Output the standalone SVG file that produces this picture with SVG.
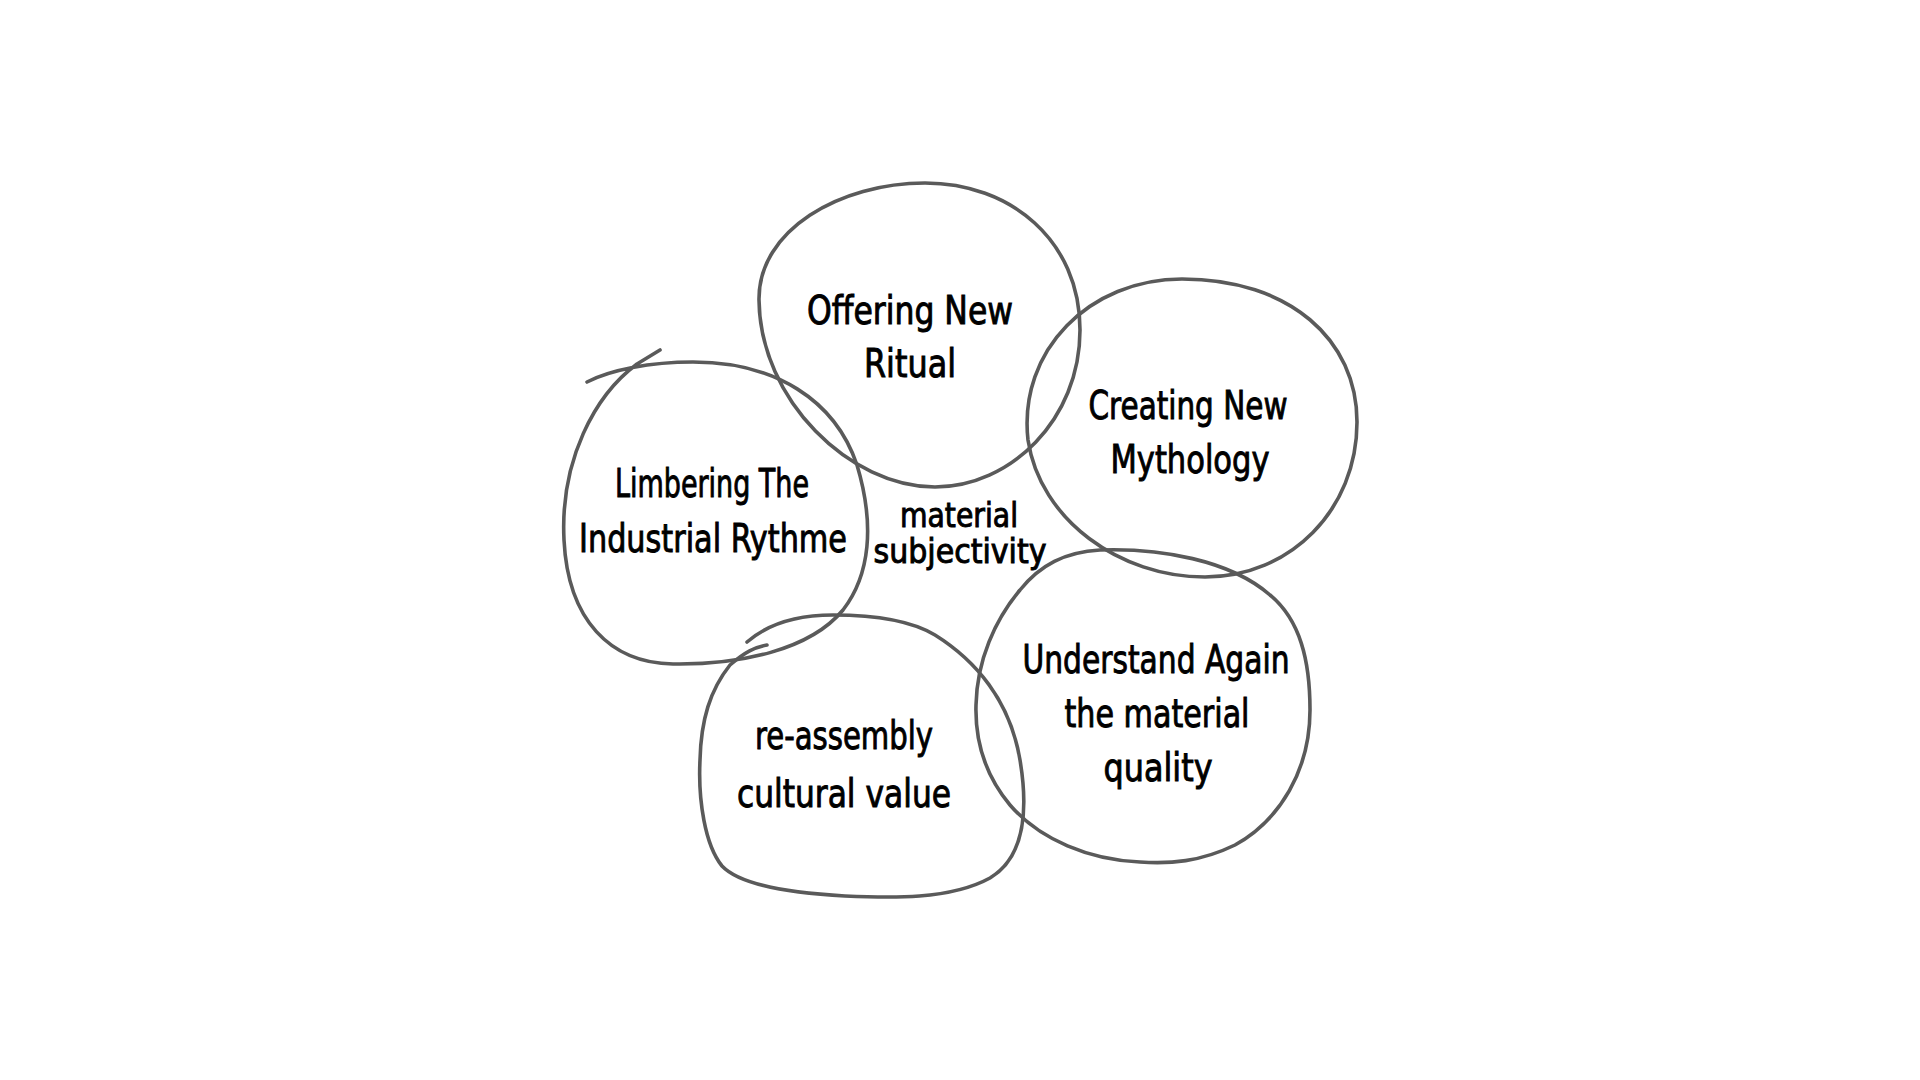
<svg xmlns="http://www.w3.org/2000/svg" width="1920" height="1080" viewBox="0 0 1920 1080">
<style>
.ring{fill:none;stroke:#5a5a5a;stroke-width:3.6;stroke-linecap:round;stroke-linejoin:round}
.lbl{font-family:"DejaVu Sans Condensed","DejaVu Sans","Liberation Sans",sans-serif;font-size:39px;fill:#000;stroke:#000;stroke-width:0.9;text-anchor:middle}
.sm{font-size:33px}
</style>
<rect width="1920" height="1080" fill="#fff"/>
<g id="node-offering">
<path class="ring" d="M925,183 C1010,183 1080,240 1080,330 C1080,420 1010,487 935,487 C850,487 760,400 759,300 C758,230 840,183 925,183 Z"/>
<text class="lbl" x="910" y="324" textLength="206" lengthAdjust="spacingAndGlyphs">Offering New</text>
<text class="lbl" x="910" y="377" textLength="92" lengthAdjust="spacingAndGlyphs">Ritual</text>
</g>
<g id="node-mythology">
<path class="ring" d="M1182,279 C1290,279 1357,340 1357,422 C1357,510 1290,577 1205,577 C1120,577 1040,520 1028,440 C1018,350 1090,279 1182,279 Z"/>
<text class="lbl" x="1188" y="419" textLength="199" lengthAdjust="spacingAndGlyphs">Creating New</text>
<text class="lbl" x="1190" y="473" textLength="159" lengthAdjust="spacingAndGlyphs">Mythology</text>
</g>
<g id="node-limbering">
<path class="ring" d="M587,382 C610,370 650,362 693,362 C775,362 835,400 857,465 C875,525 870,575 843,610 C810,650 740,665 673,664 C610,663 568,620 564,540 C560,460 595,395 637,364 L660,350"/>
<text class="lbl" x="712" y="497" textLength="194" lengthAdjust="spacingAndGlyphs">Limbering The</text>
<text class="lbl" x="713" y="552" textLength="268" lengthAdjust="spacingAndGlyphs">Industrial Rythme</text>
</g>
<g id="node-reassembly">
<path class="ring" d="M747,642 C770,622 800,615 833,615 C870,615 910,620 935,635 C975,660 1010,700 1020,760 C1030,820 1020,860 990,878 C950,900 890,898 845,896 C790,893 740,885 722,866 C705,845 698,800 700,760 C701,720 710,690 730,665 C745,652 755,647 767,645"/>
<text class="lbl" x="844" y="749" textLength="178" lengthAdjust="spacingAndGlyphs">re-assembly</text>
<text class="lbl" x="844" y="807" textLength="214" lengthAdjust="spacingAndGlyphs">cultural value</text>
</g>
<g id="node-understand">
<path class="ring" d="M1020,590 C1040,565 1065,552 1100,550 C1160,548 1230,560 1270,595 C1300,620 1310,660 1310,710 C1310,770 1280,820 1235,845 C1200,862 1170,864 1140,862 C1090,860 1040,840 1010,805 C985,775 975,740 976,705 C977,660 995,620 1020,590 Z"/>
<text class="lbl" x="1156" y="673" textLength="267" lengthAdjust="spacingAndGlyphs">Understand Again</text>
<text class="lbl" x="1157" y="727" textLength="185" lengthAdjust="spacingAndGlyphs">the material</text>
<text class="lbl" x="1158" y="781" textLength="109" lengthAdjust="spacingAndGlyphs">quality</text>
</g>
<g id="label-center">
<text class="lbl sm" x="959" y="527" textLength="118" lengthAdjust="spacingAndGlyphs">material</text>
<text class="lbl sm" x="960" y="563" textLength="173" lengthAdjust="spacingAndGlyphs">subjectivity</text>
</g>
</svg>
